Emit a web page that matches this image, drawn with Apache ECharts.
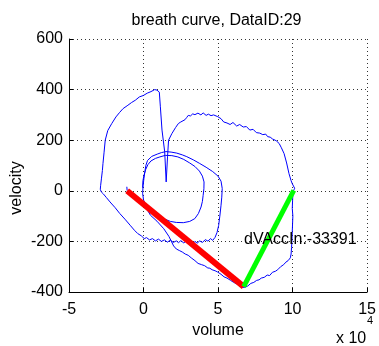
<!DOCTYPE html>
<html><head><meta charset="utf-8">
<script src="https://cdn.jsdelivr.net/npm/echarts@6/dist/echarts.min.js"></script>
<style>html,body{margin:0;padding:0;background:#fff}#c{width:379px;height:346px}</style>
</head><body><div id="c"></div>
<script>
// ---- data (volume in units of 10^4) ----
const titleText = 'breath curve, DataID:29';
const xAxisTitle = 'volume';
const yAxisTitle = 'velocity';
const xRange = [-5, 15];
const xStep = 5;
const yRange = [-400, 600];
const yStep = 200;
const annotationText = 'dVAccIn:-33391';
const annotationPoint = [[6.74, -193]];
const redSegment = [[-1.1, 0], [6.72, -379]];
const greenSegment = [[6.72, -379], [10.08, 2]];
const startMark = [[-1.12, 16], [-1.1, 1]];

const innerLoop = [[-0.06,12],[-0.04,40],[0.03,61],[0.15,85],[0.3,104],[0.5,118],[0.8,128],[1.1,134],[1.46,140],[1.9,139],[2.3,134],[2.7,124],[3.1,110],[3.45,96],[3.75,78],[3.95,58],[4.06,35],[4.05,8],[4.0,-18],[3.95,-42],[3.86,-64],[3.68,-90],[3.44,-110],[3.1,-121],[2.67,-126],[2.2,-125],[1.8,-121],[1.35,-110],[0.92,-97],[0.6,-84],[0.36,-70],[0.13,-54],[0.0,-36],[-0.06,-10],[-0.03,20]];
const secondLoop = [[0.03,50],[0.1,80],[0.16,101],[0.27,120],[0.55,136],[0.92,145],[1.2,151],[1.5,155],[1.85,153],[2.23,149],[2.6,142],[2.9,135],[3.35,122],[3.77,108],[4.2,93],[4.64,76],[5.0,58],[5.2,38],[5.28,9],[5.25,-25],[5.2,-57],[5.12,-100],[5.04,-137],[4.93,-165],[4.8,-184]];
const noisyBottom = [[4.64,-196],[4.5,-189],[4.32,-199],[4.15,-193],[3.95,-204],[3.77,-198],[3.6,-207],[3.45,-200],[3.3,-211],[3.15,-202],[3.0,-209],[2.85,-199],[2.7,-206],[2.5,-197],[2.35,-205],[2.2,-198],[2.0,-204],[1.8,-195],[1.6,-203],[1.4,-194],[1.2,-200],[1.0,-191],[0.8,-198],[0.6,-189],[0.4,-194],[0.2,-185],[0.05,-189],[-0.15,-178],[-0.39,-169],[-0.61,-156]];
const outerLeft = [[-0.9,-136],[-1.25,-112],[-1.59,-90],[-1.9,-67],[-2.25,-44],[-2.5,-26],[-2.7,-12],[-2.84,-4],[-2.9,6],[-2.8,12],[-2.88,20],[-2.82,50],[-2.76,80],[-2.72,108],[-2.65,150],[-2.57,200],[-2.4,238],[-2.13,266],[-1.85,292],[-1.6,310],[-1.37,325],[-1.1,336],[-0.8,349],[-0.55,358],[-0.28,371],[0.0,377],[0.25,386],[0.5,392],[0.75,400],[0.9,398],[1.0,402],[1.06,390],[1.13,332],[1.24,240],[1.42,154],[1.52,35],[1.61,134],[1.68,200]];
const outerTop = [[1.9,226],[2.15,250],[2.34,266],[2.5,272],[2.62,268],[2.78,281],[2.9,290],[3.0,298],[3.15,296],[3.3,304],[3.45,301],[3.65,307],[3.85,300],[4.0,308],[4.2,298],[4.35,303],[4.53,297],[4.7,300],[4.98,293],[5.2,285],[5.38,272],[5.6,268],[5.81,262],[6.0,270],[6.25,256],[6.45,262],[6.69,252],[6.9,254],[7.13,240],[7.35,243],[7.57,230],[7.8,228],[8.0,222],[8.2,224],[8.33,214],[8.5,212],[8.65,205],[8.9,198],[9.1,187],[9.25,170],[9.43,147],[9.6,110],[9.76,68],[9.9,40],[9.98,28],[10.1,22],[10.14,10]];
const outerRightBottom = [[10.06,0],[10.02,-15],[10.0,-40],[9.98,-70],[10.02,-100],[10.0,-130],[9.98,-160],[9.96,-195],[9.93,-225],[9.9,-250],[9.85,-265],[9.7,-276],[9.55,-282],[9.4,-292],[9.2,-300],[9.0,-312],[8.85,-318],[8.65,-322],[8.46,-335],[8.3,-333],[8.1,-342],[7.9,-345],[7.75,-352],[7.59,-354],[7.4,-362],[7.2,-366],[7.0,-376],[6.82,-381],[6.65,-382],[6.45,-377],[6.25,-368],[6.05,-362],[5.84,-354],[5.6,-345],[5.4,-340],[5.2,-330],[4.97,-321],[4.8,-316],[4.6,-312],[4.45,-306],[4.31,-305],[4.1,-296],[3.9,-292],[3.66,-287],[3.45,-276],[3.2,-265],[3.0,-255],[2.8,-250],[2.6,-242],[2.4,-236],[2.2,-230],[2.02,-218],[1.7,-180],[1.36,-150],[0.9,-120],[0.47,-97],[0.2,-70],[0.05,-44]];

const breathCurve = [].concat(innerLoop, secondLoop, noisyBottom, outerLeft, outerTop, outerRightBottom);

// ---- chart ----
const FONT = '"Liberation Sans", Arial, Helvetica, sans-serif';
const chart = echarts.init(document.getElementById('c'), null, {renderer: 'canvas'});
const gridDots = {show: true, lineStyle: {color: '#333', width: 1, type: [1, 3]}};
const axisCommon = {
  axisLine: {show: true, onZero: false, lineStyle: {color: '#000', width: 1}},
  axisTick: {show: true, inside: true, length: 4, lineStyle: {color: '#000'}},
  splitLine: gridDots,
  axisLabel: {color: '#000', fontSize: 16, fontFamily: FONT}
};
chart.setOption({
  animation: false,
  backgroundColor: '#fff',
  grid: {left: 69, right: 6.5, top: 39, bottom: 54, containLabel: false},
  xAxis: Object.assign({type: 'value', min: xRange[0], max: xRange[1], interval: xStep}, axisCommon,
    {axisLabel: Object.assign({}, axisCommon.axisLabel, {margin: 10})}),
  yAxis: Object.assign({type: 'value', min: yRange[0], max: yRange[1], interval: yStep}, axisCommon,
    {axisLabel: Object.assign({}, axisCommon.axisLabel, {margin: 6})}),
  graphic: [
    {type: 'text', x: 216.5, y: 20.5, style: {text: titleText, fontSize: 16, fontFamily: FONT, fill: '#000', align: 'center', verticalAlign: 'middle'}},
    {type: 'text', x: 218, y: 331, style: {text: xAxisTitle, fontSize: 16, fontFamily: FONT, fill: '#000', align: 'center', verticalAlign: 'middle'}},
    {type: 'text', x: 17, y: 188, rotation: Math.PI / 2, style: {text: yAxisTitle, fontSize: 16, fontFamily: FONT, fill: '#000', align: 'center', verticalAlign: 'middle'}},
    {type: 'text', x: 336, y: 339, style: {text: 'x 10', fontSize: 16, fontFamily: FONT, fill: '#000', align: 'left', verticalAlign: 'middle'}},
    {type: 'text', x: 367, y: 321, style: {text: '4', fontSize: 11, fontFamily: FONT, fill: '#000', align: 'left', verticalAlign: 'middle'}}
  ],
  series: [
    {type: 'line', data: breathCurve, showSymbol: false, symbol: 'none', lineStyle: {color: '#0000ff', width: 1}, z: 2},
    {type: 'line', data: startMark, showSymbol: false, symbol: 'none', lineStyle: {color: '#0000ff', width: 1}, z: 2},
    {type: 'line', data: redSegment, showSymbol: false, symbol: 'none', lineStyle: {color: '#ff0000', width: 6}, z: 3},
    {type: 'line', data: greenSegment, showSymbol: false, symbol: 'none', lineStyle: {color: '#00ff00', width: 5}, z: 4},
    {type: 'scatter', data: annotationPoint, symbolSize: 0, z: 5, itemStyle: {opacity: 1},
     label: {show: true, position: 'right', distance: 0, formatter: annotationText, color: '#000', opacity: 1, fontSize: 16, fontFamily: FONT, verticalAlign: 'middle', textBorderWidth: 0}}
  ]
});
</script></body></html>
